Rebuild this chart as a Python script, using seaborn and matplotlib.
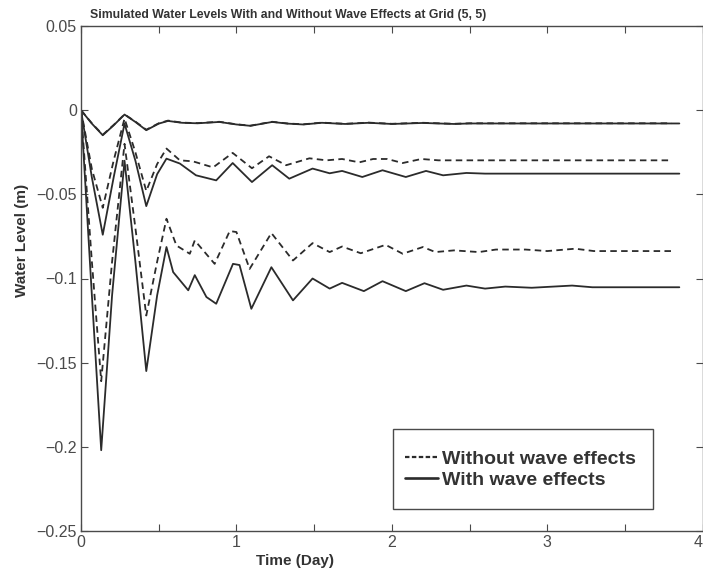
import matplotlib
matplotlib.use("Agg")
import matplotlib.pyplot as plt
import seaborn as sns
import pandas as pd
from matplotlib.lines import Line2D
from matplotlib.patches import Rectangle
from matplotlib.ticker import MultipleLocator, FixedLocator

sns.set_theme(style="white")
plt.rcParams['font.family'] = ['Liberation Sans', 'DejaVu Sans']

# ---------------- data ----------------
top_with_t = [0, 0.07, 0.14, 0.21, 0.28, 0.35, 0.42, 0.5, 0.56, 0.65, 0.75, 0.89, 1.0, 1.09,
              1.23, 1.33, 1.43, 1.55, 1.7, 1.85, 2.0, 2.2, 2.4, 2.5, 3.85]
top_with_v = [0, -0.008, -0.0149, -0.009, -0.0026, -0.007, -0.0119, -0.008, -0.0064, -0.0075,
              -0.0078, -0.007, -0.0085, -0.0093, -0.007, -0.008, -0.0085, -0.0075, -0.0082,
              -0.0075, -0.0082, -0.0076, -0.0082, -0.0079, -0.0079]
top_without_t = [0, 0.07, 0.14, 0.21, 0.28, 0.35, 0.42, 0.5, 0.56, 0.65, 0.75, 0.89, 1.0, 1.09,
                 1.23, 1.33, 1.43, 1.55, 1.7, 1.85, 2.0, 2.2, 2.4, 2.5, 3.8]
top_without_v = [0, -0.0078, -0.0146, -0.0088, -0.0025, -0.0068, -0.0116, -0.0078, -0.0062,
                 -0.0074, -0.0077, -0.0069, -0.0084, -0.0092, -0.0069, -0.0079, -0.0084,
                 -0.0074, -0.0081, -0.0074, -0.0081, -0.0075, -0.0081, -0.0078, -0.0078]

mid_without_t = [0, 0.07, 0.14, 0.21, 0.28, 0.35, 0.42, 0.49, 0.55, 0.636, 0.72, 0.85, 0.976,
                 1.1, 1.21, 1.32, 1.47, 1.58, 1.68, 1.79, 1.88, 1.97, 2.07, 2.19, 2.3, 3.8]
mid_without_v = [0, -0.035, -0.058, -0.03, -0.005, -0.025, -0.048, -0.032, -0.0228, -0.0298,
                 -0.0304, -0.034, -0.0254, -0.0345, -0.0274, -0.0327, -0.0286, -0.0298, -0.029,
                 -0.031, -0.029, -0.029, -0.0314, -0.029, -0.0298, -0.0298]
mid_with_t = [0, 0.07, 0.14, 0.21, 0.28, 0.35, 0.42, 0.49, 0.55, 0.636, 0.74, 0.87, 0.976, 1.1,
              1.23, 1.34, 1.49, 1.6, 1.68, 1.81, 1.94, 2.09, 2.22, 2.33, 2.48, 2.6, 3.85]
mid_with_v = [0, -0.04, -0.074, -0.04, -0.008, -0.03, -0.057, -0.038, -0.0288, -0.0317, -0.0387,
              -0.0417, -0.0314, -0.0427, -0.0327, -0.0407, -0.0347, -0.0375, -0.0361, -0.0397,
              -0.0357, -0.0397, -0.0361, -0.0387, -0.0373, -0.0377, -0.0377]

low_without_t = [0, 0.07, 0.13, 0.2, 0.28, 0.35, 0.42, 0.49, 0.55, 0.614, 0.70, 0.732, 0.86,
                 0.957, 1.0, 1.085, 1.225, 1.364, 1.49, 1.6, 1.68, 1.8, 1.96, 2.07, 2.2, 2.28,
                 2.4, 2.56, 2.67, 2.86, 3.0, 3.18, 3.3, 3.8]
low_without_v = [0, -0.09, -0.161, -0.09, -0.02, -0.07, -0.122, -0.09, -0.0645, -0.0804,
                 -0.0853, -0.0774, -0.0913, -0.0718, -0.0724, -0.0943, -0.073, -0.0893, -0.079,
                 -0.0843, -0.081, -0.085, -0.080, -0.0853, -0.0813, -0.0843, -0.0833, -0.0843,
                 -0.0828, -0.0828, -0.0837, -0.0823, -0.0837, -0.0837]
low_with_t = [0, 0.07, 0.13, 0.2, 0.28, 0.35, 0.42, 0.49, 0.55, 0.593, 0.69, 0.732, 0.807, 0.87,
              0.978, 1.02, 1.096, 1.225, 1.364, 1.49, 1.6, 1.68, 1.82, 1.94, 2.09, 2.21, 2.33,
              2.48, 2.6, 2.73, 2.9, 3.16, 3.29, 3.85]
low_with_v = [0, -0.11, -0.202, -0.11, -0.03, -0.09, -0.155, -0.11, -0.0813, -0.0962, -0.107,
              -0.098, -0.111, -0.115, -0.0913, -0.092, -0.118, -0.0933, -0.113, -0.100, -0.106,
              -0.1026, -0.1075, -0.1016, -0.1075, -0.1028, -0.1067, -0.1042, -0.106, -0.1048,
              -0.1055, -0.1042, -0.1052, -0.1052]

y_ticks = [0.05, 0, -0.05, -0.1, -0.15, -0.2, -0.25]
y_tick_labels = ["0.05", "0", "\u22120.05", "\u22120.1", "\u22120.15", "\u22120.2", "\u22120.25"]
x_ticks = [0, 1, 2, 3, 4]

title = "Simulated Water Levels With and Without Wave Effects at Grid (5, 5)"
legend_labels = ["Without wave effects", "With wave effects"]

# ---------------- plot ----------------
LC = "#2b2b2b"
TC = "#333333"
GC = "#4a4a4a"
fig = plt.figure(figsize=(7.03, 5.73), dpi=100)
ax = fig.add_axes([81 / 703, 1 - 531 / 573, 1 - 81 / 703 - 0.0005, (531 - 26) / 573])

series = [
    (top_without_t, top_without_v, True),
    (mid_without_t, mid_without_v, True),
    (low_without_t, low_without_v, True),
    (top_with_t, top_with_v, False),
    (mid_with_t, mid_with_v, False),
    (low_with_t, low_with_v, False),
]
for t, v, dashed in series:
    df = pd.DataFrame({"t": t, "v": v})
    sns.lineplot(data=df, x="t", y="v", ax=ax, color=LC, lw=1.3, estimator=None)
    if dashed:
        ax.lines[-1].set_dashes((3.6, 2.4))

ax.set_xlim(0, 4)
ax.set_ylim(-0.25, 0.05)
ax.xaxis.set_major_locator(FixedLocator(x_ticks))
ax.xaxis.set_minor_locator(MultipleLocator(0.5))
ax.yaxis.set_major_locator(FixedLocator(y_ticks))
ax.set_xticklabels([str(x) for x in x_ticks])
ax.set_yticklabels(y_tick_labels)
ax.get_xticklabels()[-1].set_horizontalalignment("right")
ax.tick_params(which="both", direction="in", top=True, right=True, bottom=True, left=True,
               length=5, width=0.8, color=GC, labelsize=11.5, labelcolor=GC, pad=3)
for s in ax.spines.values():
    s.set_visible(True)
    s.set_color(GC)
    s.set_linewidth(1.0)

ax.set_xlabel("Time (Day)", fontsize=11, fontweight="bold", color=TC)
ax.xaxis.set_label_coords((295 - 81) / 622, -0.045)
ax.set_ylabel("Water Level (m)", fontsize=11, fontweight="bold", color=TC)
ax.yaxis.set_label_coords(-0.0836, (531 - 240) / 505)
fig.text(288 / 703, 1 - 15 / 573, title, ha="center", va="center",
         fontsize=8.8, fontweight="bold", color=TC)

# legend box
rect = Rectangle(((393 - 81) / 622, (531 - 509) / 505), (653 - 393) / 622, (509 - 429) / 505,
                 transform=ax.transAxes, facecolor="white", edgecolor=GC, lw=1.0, zorder=5)
ax.add_patch(rect)
handles = [Line2D([0], [0], color=LC, lw=1.6, dashes=(2.0, 1.1)),
           Line2D([0], [0], color=LC, lw=1.9)]
leg = ax.legend(handles, legend_labels, loc="center left",
                bbox_to_anchor=((392 - 81) / 622, (531 - 469.5) / 505), frameon=False,
                prop={"weight": "bold", "size": 14}, handlelength=1.65, handletextpad=0.25,
                labelspacing=0.18, borderpad=0.2)
for txt in leg.get_texts():
    txt.set_color(TC)
leg.set_zorder(6)

fig.savefig("out.png", dpi=100)
